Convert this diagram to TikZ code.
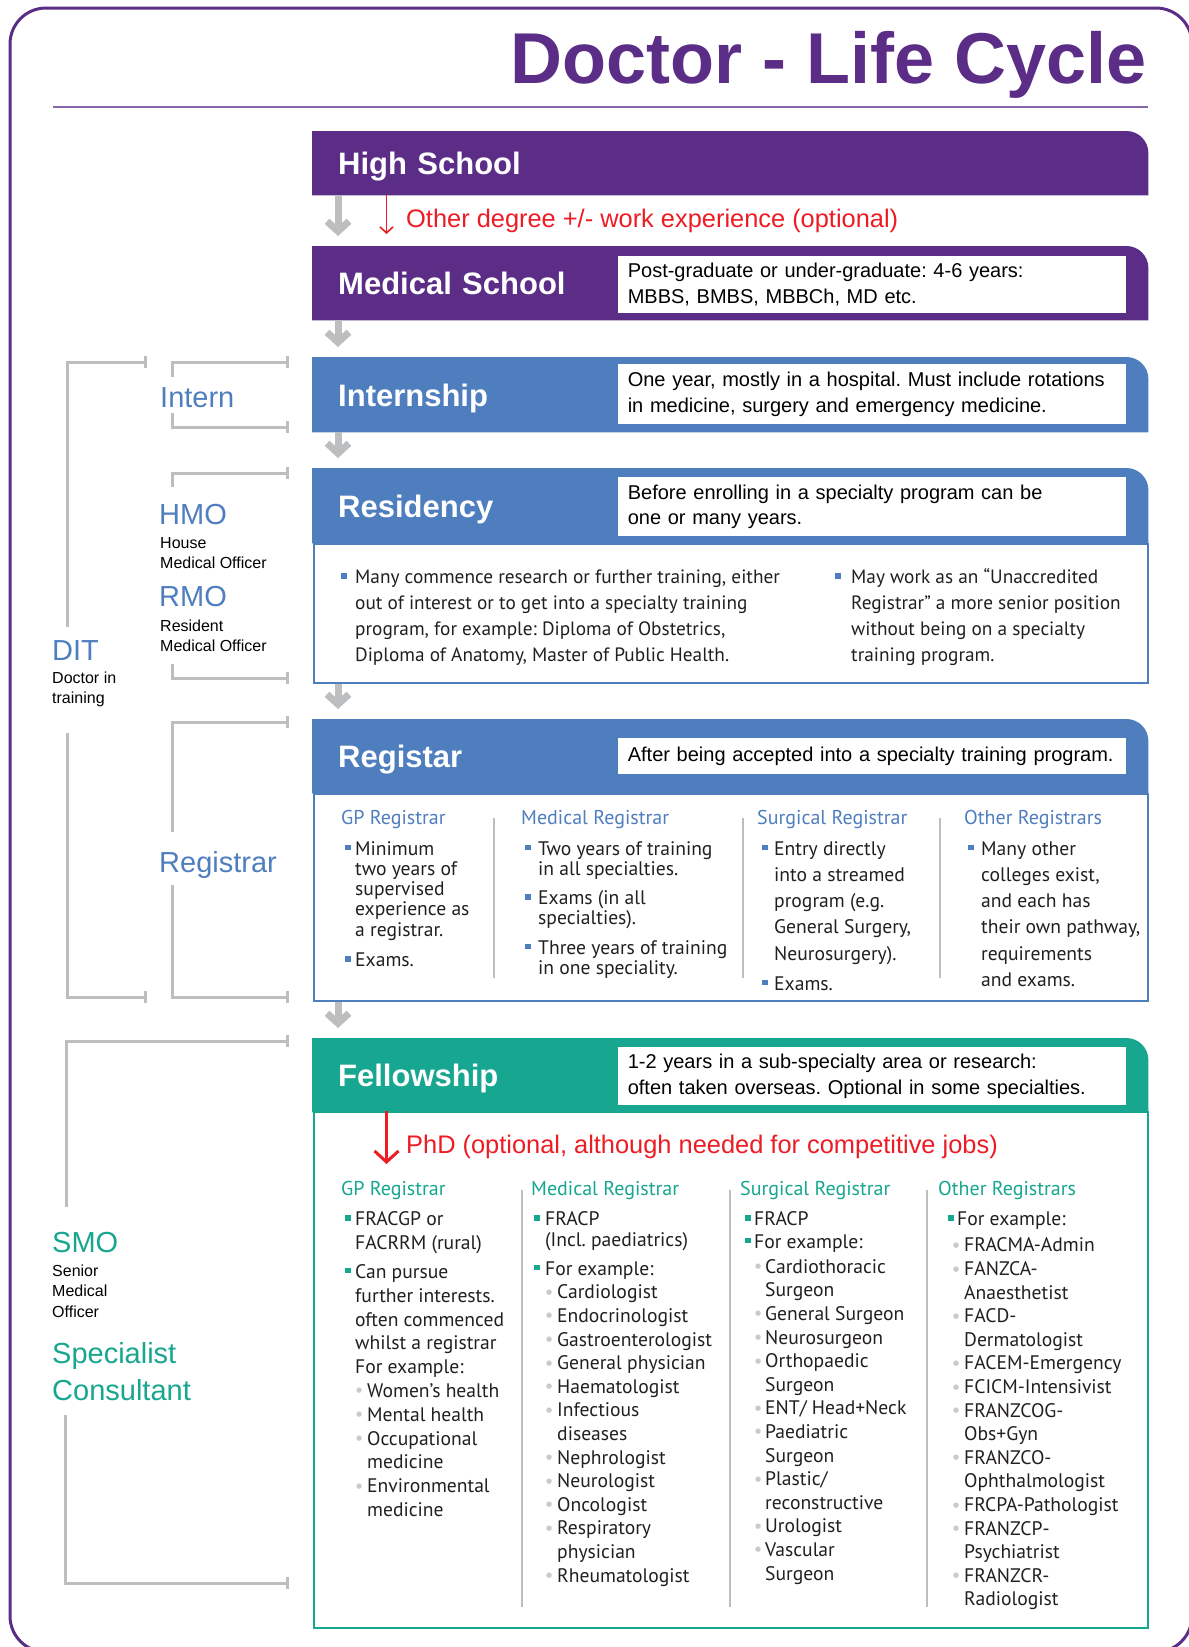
\documentclass[tikz,border=0pt]{standalone}
\usepackage{fontspec}
\setmainfont{Liberation Sans}
\newfontfamily\ptsans{PT Sans}
\newfontfamily\dejavu{DejaVu Sans}
\usetikzlibrary{arrows.meta,backgrounds}
\definecolor{dlpurple}{HTML}{5B2D86}
\definecolor{dlrule}{HTML}{8667AD}
\definecolor{dlblue}{HTML}{4F7EBF}
\definecolor{dlgreen}{HTML}{17A68F}
\definecolor{dlred}{HTML}{ED1C24}
\definecolor{dlgray}{HTML}{BCBEC0}
\definecolor{dldot}{HTML}{C8CACC}
\definecolor{dltext}{HTML}{231F20}
\frenchspacing
\newcommand\sqbul[2]{\makebox[#1][l]{\textcolor{#2}{\rule[5pt]{5.5pt}{5.5pt}}}}
\newcommand\dotbul[2]{\hspace*{#1}\makebox[#2][l]{\raisebox{4.5pt}{\fontsize{7}{7}\dejavu\textcolor{dldot}{●}}}}
\newcommand\dlind[1]{\hspace*{#1}}
\begin{document}
\begin{tikzpicture}[x=1pt,y=-1pt,
  hdr/.style={anchor=north west, minimum width=836pt, text width=784pt, inner xsep=26pt, inner ysep=0pt, align=left, text height=23pt, text depth=0pt, text=white, font=\bfseries\fontsize{31}{36}\selectfont},
  desc/.style={anchor=north west, fill=white, minimum width=508pt, text width=488pt, inner xsep=10pt, inner ysep=0pt, align=left, text=black, font=\fontsize{20}{25.5}\selectfont},
  bodybox/.style={anchor=north west, minimum width=834pt, fill=white, line width=2pt, inner sep=0pt},
  col/.style={anchor=north west, inner sep=0pt, align=left, text=dltext},
  colhead/.style={anchor=base west, inner sep=0pt, font=\ptsans\fontsize{20}{24}\selectfont},
  bracket/.style={draw=dlgray, line width=3pt},
  sepline/.style={draw=dlgray, line width=2.5pt},
  grayarr/.style={draw=dlgray, line width=7pt, -{Straight Barb[length=10pt,width=22pt]}, shorten >=10pt},
  redarr/.style={draw=dlred, line width=1.6pt, -{Straight Barb[length=6pt,width=13pt]}},
  redarrb/.style={draw=dlred, line width=3pt, -{Straight Barb[length=11pt,width=24pt]}},
  redtxt/.style={anchor=base west, inner sep=0pt, text=dlred, font=\fontsize{25.4}{29}\selectfont},
  biglbl/.style={anchor=base west, inner sep=0pt, font=\fontsize{29}{34}\selectfont},
  smalllbl/.style={anchor=north west, inner sep=0pt, align=left, font=\fontsize{16}{20.5}\selectfont}
]
\useasboundingbox (0,0) rectangle (1189,1647);
% outer frame
\draw[dlpurple, line width=3pt, rounded corners=36pt] (10,8) rectangle (1192,1652);
% title and rule
\node[anchor=base east, inner sep=0pt, text=dlpurple, font=\bfseries\fontsize{72}{80}\selectfont] (title) at (1147,83) {Doctor - Life Cycle};
\draw[dlrule, line width=2pt] (53,107) -- (1148,107);

% headers
\node[hdr, minimum height=64pt] (hs) at (312,131) {High School};
\node[hdr, minimum height=74pt] (ms) at (312,246) {Medical School};
\node[hdr, minimum height=75pt] (is) at (312,357) {Internship};
\node[hdr, minimum height=75pt] (rs) at (312,468) {Residency};
\node[hdr, minimum height=74pt] (rg) at (312,719) {Registar};
\node[hdr, minimum height=74pt] (fs) at (312,1038) {Fellowship};
\begin{pgfonlayer}{background}
\foreach \n/\c in {hs/dlpurple,ms/dlpurple,is/dlblue,rs/dlblue,rg/dlblue,fs/dlgreen}{
  \fill[\c] (\n.south west) -- (\n.north west) -- ([xshift=-22pt]\n.north east) arc[start angle=90,end angle=0,radius=22pt] -- (\n.south east) -- cycle;
}
\end{pgfonlayer}

% body boxes
\node[bodybox, draw=dlblue, minimum height=139pt] (rsb) at (313,543) {};
\node[bodybox, draw=dlblue, minimum height=207pt] (rgb) at (313,793) {};
\node[bodybox, draw=dlgreen, minimum height=516pt] (fsb) at (313,1111) {};

% description boxes
\node[desc, minimum height=57pt] (msd) at (617.6,256) {Post-graduate or under-graduate: 4-6 years:\\MBBS, BMBS, MBBCh, MD etc.};
\node[desc, minimum height=60pt] (isd) at (617.6,364) {One year, mostly in a hospital. Must include rotations\\in medicine, surgery and emergency medicine.};
\node[desc, minimum height=59pt] (rsd) at (617.6,477) {Before enrolling in a specialty program can be\\one or many years.};
\node[desc, minimum height=36pt] (rgd) at (617.6,738) {After being accepted into a specialty training program.};
\node[desc, minimum height=58pt] (fsd) at (617.6,1047) {1-2 years in a sub-specialty area or research:\\often taken overseas. Optional in some specialties.};

% gray flow arrows
\draw[grayarr] ([xshift=26pt]hs.south west) -- ([xshift=26pt]ms.north west);
\draw[grayarr] ([xshift=26pt]ms.south west) -- ([xshift=26pt]is.north west);
\draw[grayarr] ([xshift=26pt]is.south west) -- ([xshift=26pt]rs.north west);
\draw[grayarr] ([xshift=25pt]rsb.south west) -- ([xshift=26pt]rg.north west);
\draw[grayarr] ([xshift=25pt]rgb.south west) -- ([xshift=26pt]fs.north west);

% red optional arrows
\coordinate (r1end) at (386.5,234);
\draw[redarr] ([xshift=74.5pt]hs.south west) -- (r1end);
\node[redtxt] (r1t) at (406,227) {Other degree +/- work experience (optional)};
\coordinate (r2end) at (386.5,1164);
\draw[redarrb] ([xshift=73.5pt]fsb.north west) -- (r2end);
\node[redtxt] (r2t) at (406,1153) {PhD (optional, although needed for competitive jobs)};

% residency body
\node[col, font=\ptsans\fontsize{19.3}{26}\selectfont] (rc1) at (341,565.3) {\strut\sqbul{14pt}{dlblue}Many commence research or further training, either\\ \dlind{14pt}out of interest or to get into a specialty training\\ \dlind{14pt}program, for example: Diploma of Obstetrics,\\ \dlind{14pt}Diploma of Anatomy, Master of Public Health.};
\node[col, font=\ptsans\fontsize{19.3}{26}\selectfont] (rc2) at (835,565.3) {\strut\sqbul{16pt}{dlblue}May work as an “Unaccredited\\ \dlind{16pt}Registrar” a more senior position\\ \dlind{16pt}without being on a specialty\\ \dlind{16pt}training program.};

% registrar body
\node[colhead, text=dlblue] (rgh1) at (341,824) {GP Registrar};
\node[colhead, text=dlblue] (rgh2) at (521,824) {Medical Registrar};
\node[colhead, text=dlblue] (rgh3) at (757,824) {Surgical Registrar};
\node[colhead, text=dlblue] (rgh4) at (964,824) {Other Registrars};
\draw[sepline] (494,818) -- (494,978);
\draw[sepline] (743,818) -- (743,978);
\draw[sepline] (940,818) -- (940,978);
\node[col, font=\ptsans\fontsize{19.6}{20.25}\selectfont] (rgc1) at (345,840.8) {\strut\sqbul{10pt}{dlblue}Minimum\\ \dlind{10pt}two years of\\ \dlind{10pt}supervised\\ \dlind{10pt}experience as\\ \dlind{10pt}a registrar.\\[10.5pt] \sqbul{10pt}{dlblue}Exams.};
\node[col, font=\ptsans\fontsize{19.6}{20.25}\selectfont] (rgc2) at (525,840.8) {\strut\sqbul{13pt}{dlblue}Two years of training\\ \dlind{13pt}in all specialties.\\[9pt] \sqbul{13pt}{dlblue}Exams (in all\\ \dlind{13pt}specialties).\\[9pt] \sqbul{13pt}{dlblue}Three years of training\\ \dlind{13pt}in one speciality.};
\node[col, font=\ptsans\fontsize{19.6}{26.2}\selectfont] (rgc3) at (762,836.7) {\strut\sqbul{12pt}{dlblue}Entry directly\\ \dlind{12pt}into a streamed\\ \dlind{12pt}program (e.g.\\ \dlind{12pt}General Surgery,\\ \dlind{12pt}Neurosurgery).\\[3.8pt] \sqbul{12pt}{dlblue}Exams.};
\node[col, font=\ptsans\fontsize{19.6}{26.2}\selectfont] (rgc4) at (968,836.7) {\strut\sqbul{13pt}{dlblue}Many other\\ \dlind{13pt}colleges exist,\\ \dlind{13pt}and each has\\ \dlind{13pt}their own pathway,\\ \dlind{13pt}requirements\\ \dlind{13pt}and exams.};

% fellowship body
\node[colhead, text=dlgreen] (fh1) at (341,1195) {GP Registrar};
\node[colhead, text=dlgreen] (fh2) at (531,1195) {Medical Registrar};
\node[colhead, text=dlgreen] (fh3) at (740,1195) {Surgical Registrar};
\node[colhead, text=dlgreen] (fh4) at (938,1195) {Other Registrars};
\draw[sepline] (522,1190) -- (522,1607);
\draw[sepline] (730,1190) -- (730,1607);
\draw[sepline] (927,1190) -- (927,1607);
\node[col, font=\ptsans\fontsize{19.6}{23.8}\selectfont] (fc1) at (345,1209) {\strut\sqbul{10pt}{dlgreen}FRACGP or\\ \dlind{10pt}FACRRM (rural)\\[5pt] \sqbul{10pt}{dlgreen}Can pursue\\ \dlind{10pt}further interests.\\ \dlind{10pt}often commenced\\ \dlind{10pt}whilst a registrar\\ \dlind{10pt}For example:\\ \dotbul{11pt}{11pt}Women’s health\\ \dotbul{11pt}{11pt}Mental health\\ \dotbul{11pt}{11pt}Occupational\\ \dlind{22pt}medicine\\ \dotbul{11pt}{11pt}Environmental\\ \dlind{22pt}medicine};
\node[col, font=\ptsans\fontsize{19.6}{23.6}\selectfont] (fc2) at (534,1209.2) {\strut\sqbul{11pt}{dlgreen}FRACP\\[-2.6pt] \dlind{11pt}(Incl. paediatrics)\\[4.7pt] \sqbul{11pt}{dlgreen}For example:\\ \dotbul{12pt}{11pt}Cardiologist\\ \dotbul{12pt}{11pt}Endocrinologist\\ \dotbul{12pt}{11pt}Gastroenterologist\\ \dotbul{12pt}{11pt}General physician\\ \dotbul{12pt}{11pt}Haematologist\\ \dotbul{12pt}{11pt}Infectious\\ \dlind{23pt}diseases\\ \dotbul{12pt}{11pt}Nephrologist\\ \dotbul{12pt}{11pt}Neurologist\\ \dotbul{12pt}{11pt}Oncologist\\ \dotbul{12pt}{11pt}Respiratory\\ \dlind{23pt}physician\\ \dotbul{12pt}{11pt}Rheumatologist};
\node[col, font=\ptsans\fontsize{19.6}{23.6}\selectfont] (fc3) at (745,1209.2) {\strut\sqbul{9pt}{dlgreen}FRACP\\[-1.3pt] \sqbul{9pt}{dlgreen}For example:\\[1.4pt] \dotbul{10pt}{10pt}Cardiothoracic\\ \dlind{20pt}Surgeon\\ \dotbul{10pt}{10pt}General Surgeon\\ \dotbul{10pt}{10pt}Neurosurgeon\\ \dotbul{10pt}{10pt}Orthopaedic\\ \dlind{20pt}Surgeon\\ \dotbul{10pt}{10pt}ENT/ Head+Neck\\ \dotbul{10pt}{10pt}Paediatric\\ \dlind{20pt}Surgeon\\ \dotbul{10pt}{10pt}Plastic/\\ \dlind{20pt}reconstructive\\ \dotbul{10pt}{10pt}Urologist\\ \dotbul{10pt}{10pt}Vascular\\ \dlind{20pt}Surgeon};
\node[col, font=\ptsans\fontsize{19.6}{23.6}\selectfont] (fc4) at (948,1209.2) {\strut\sqbul{9pt}{dlgreen}For example:\\[2.4pt] \dotbul{5pt}{11pt}FRACMA-Admin\\ \dotbul{5pt}{11pt}FANZCA-\\ \dlind{16pt}Anaesthetist\\ \dotbul{5pt}{11pt}FACD-\\ \dlind{16pt}Dermatologist\\ \dotbul{5pt}{11pt}FACEM-Emergency\\ \dotbul{5pt}{11pt}FCICM-Intensivist\\ \dotbul{5pt}{11pt}FRANZCOG-\\ \dlind{16pt}Obs+Gyn\\ \dotbul{5pt}{11pt}FRANZCO-\\ \dlind{16pt}Ophthalmologist\\ \dotbul{5pt}{11pt}FRCPA-Pathologist\\ \dotbul{5pt}{11pt}FRANZCP-\\ \dlind{16pt}Psychiatrist\\ \dotbul{5pt}{11pt}FRANZCR-\\ \dlind{16pt}Radiologist};

% left side brackets
\draw[bracket] (145,362) -- (67,362) -- (67,627);
\draw[bracket] (67,733) -- (67,997) -- (145,997);
\draw[bracket] (145,356) -- (145,368);
\draw[bracket] (145,991) -- (145,1003);
\draw[bracket] (287,362) -- (172,362) -- (172,377);
\draw[bracket] (172,413) -- (172,427) -- (287,427);
\draw[bracket] (287,473) -- (172,473) -- (172,487);
\draw[bracket] (172,664) -- (172,678) -- (287,678);
\draw[bracket] (287,722) -- (172,722) -- (172,832);
\draw[bracket] (172,885) -- (172,997) -- (287,997);
\draw[bracket] (287,1041) -- (66,1041) -- (66,1207);
\draw[bracket] (65,1415) -- (65,1583) -- (287,1583);
\foreach \ty in {362,427,473,678,722,997,1041,1583}{
  \draw[bracket] (287,\ty-6) -- (287,\ty+6);
}

% left labels
\node[biglbl, text=dlblue] (lintern) at (160,407) {Intern};
\node[biglbl, text=dlblue] (lhmo) at (159,524) {HMO};
\node[smalllbl] (lhouse) at (160,533.6) {\strut House\\Medical Officer};
\node[biglbl, text=dlblue] (lrmo) at (159,606) {RMO};
\node[smalllbl] (lres) at (160,616.6) {\strut Resident\\Medical Officer};
\node[biglbl, text=dlblue] (ldit) at (52,660) {DIT};
\node[smalllbl] (ldoc) at (52,668.6) {\strut Doctor in\\training};
\node[biglbl, text=dlblue] (lreg) at (159,872) {Registrar};
\node[biglbl, text=dlgreen] (lsmo) at (52,1252) {SMO};
\node[smalllbl] (lsen) at (52,1261.6) {\strut Senior\\Medical\\Officer};
\node[biglbl, text=dlgreen, anchor=north west, align=left, font=\fontsize{29}{37}\selectfont] (lspec) at (52,1337) {\strut Specialist\\Consultant};
\end{tikzpicture}
\end{document}
